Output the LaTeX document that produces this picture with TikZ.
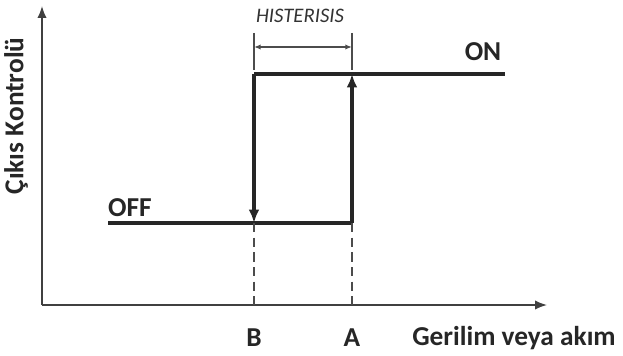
\documentclass[tikz,border=0pt]{standalone}
\usepackage{fontspec}
\setmainfont{Carlito}
\usetikzlibrary{arrows.meta}
\begin{document}
\begin{tikzpicture}[x=0.75pt,y=-0.75pt,
  axis/.style={line width=1.2pt,draw=black!75},
  thick line/.style={line width=3.2pt,draw=black!85},
  guide/.style={line width=1.1pt,draw=black!70,dash pattern=on 7pt off 4pt},
  lbl/.style={font=\bfseries\fontsize{20.5}{24}\selectfont,text=black!85,inner sep=0pt},
  tick/.style={line width=1pt,draw=black!70}]
\useasboundingbox (0,0) rectangle (623,356);
% axes
\coordinate (O) at (42,305);
\coordinate (ytop) at (42,6);
\coordinate (xend) at (547,305);
\draw[axis,-{Latex[length=9pt,width=7pt]}] (O) -- (ytop);
\draw[axis,-{Latex[length=9pt,width=7pt]}] (O) -- (xend);
% levels
\coordinate (off0) at (108,223);
\coordinate (Bl) at (254,223);
\coordinate (Al) at (352,223);
\coordinate (Bh) at (254,74);
\coordinate (Ah) at (352,74);
\coordinate (on1) at (505,74);
\coordinate (Bx) at (254,305);
\coordinate (Ax) at (352,305);
\draw[thick line] (off0) -- (Al);
\draw[thick line] (Bh) -- (on1);
\draw[thick line,-{Latex[length=10pt,width=8pt]}] (Bh) -- (Bl);
\draw[thick line,-{Latex[length=10pt,width=8pt]}] (Al) -- (Ah);
\draw[guide] (Bl) -- (Bx);
\draw[guide] (Al) -- (Ax);
% hysteresis bracket
\coordinate (h1t) at (254,33);
\coordinate (h1b) at (254,70);
\coordinate (h2t) at (352,33);
\coordinate (h2b) at (352,70);
\coordinate (ha) at (254,47);
\coordinate (hb) at (352,47);
\draw[tick] (h1t) -- (h1b);
\draw[tick] (h2t) -- (h2b);
\draw[tick,{Latex[length=5pt,width=4pt]}-{Latex[length=5pt,width=4pt]}] (ha) -- (hb);
\node[font=\itshape\fontsize{15.5}{18}\selectfont,text=black!80,inner sep=0pt] (hist) at (300,16) {HISTERISIS};
% labels
\node[lbl] (offl) at (130,208) {OFF};
\node[lbl] (onl) at (483,52) {ON};
\node[lbl] (Bt) at (254,338) {B};
\node[lbl] (At) at (352,338) {A};
\node[lbl] (xl) at (514,338) {Gerilim veya akım};
\node[lbl,rotate=90] (yl) at (16,116) {Çıkıs Kontrolü};
\end{tikzpicture}
\end{document}
